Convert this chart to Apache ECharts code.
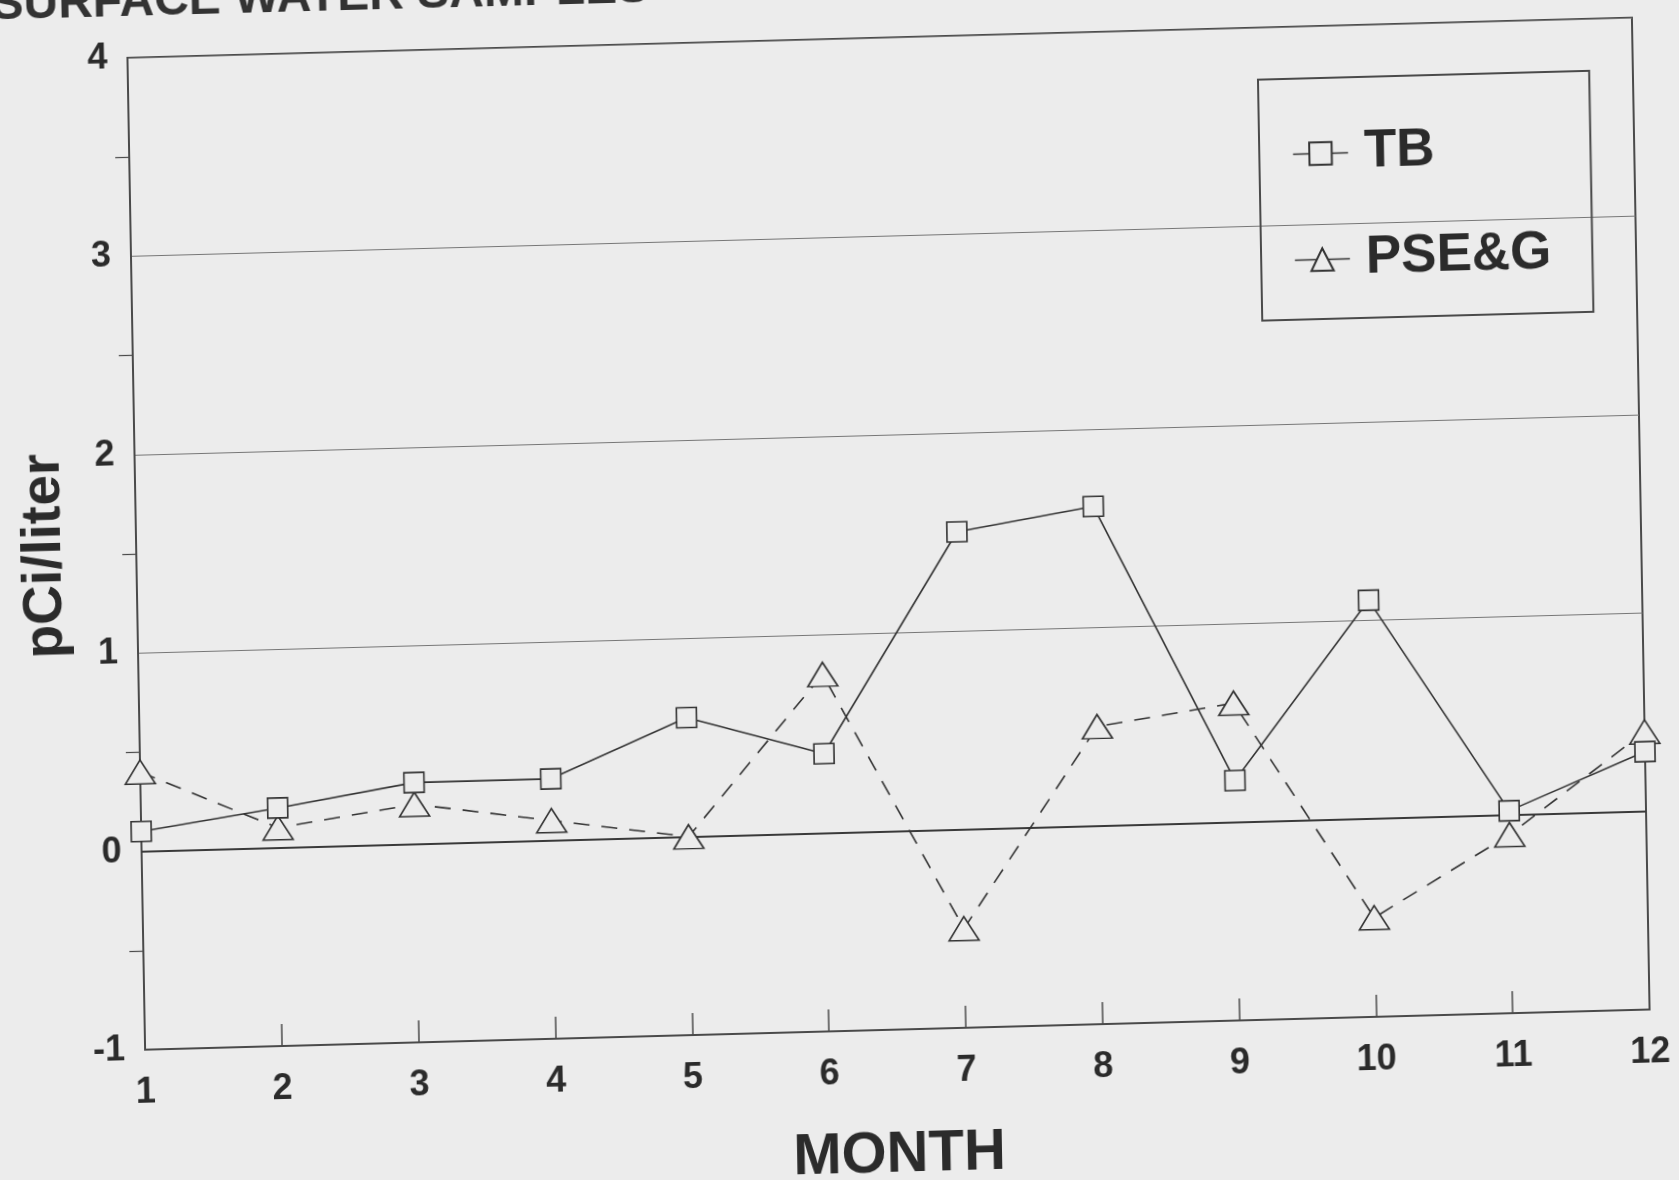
<!DOCTYPE html>
<html>
<head>
<meta charset="utf-8">
<script src="https://cdn.jsdelivr.net/npm/echarts@6/dist/echarts.min.js"></script>
<style>
html, body { margin: 0; padding: 0; background: #ececec; overflow: hidden; }
/* the scanned page is slightly tilted, so tilt the whole chart the same way;
   the div overhangs the window by 30px so the tilted corners stay filled */
#chart { position: absolute; left: -30px; top: -30px; width: 1739px; height: 1240px;
         transform: matrix(0.99964, -0.0267, 0.0178, 0.99984, 0, 0); transform-origin: 50% 50%; }
</style>
</head>
<body>
<div id="chart"></div>
<script>
var months = [1, 2, 3, 4, 5, 6, 7, 8, 9, 10, 11, 12];
var tbValues = [0.1, 0.2, 0.31, 0.31, 0.6, 0.4, 1.5, 1.61, 0.21, 1.1, 0.02, 0.3];
var pseValues = [0.4, 0.1, 0.2, 0.1, 0.0, 0.8, -0.5, 0.5, 0.6, -0.5, -0.1, 0.4];
var seriesNames = ['TB', 'PSE&G'];
var titleText = 'SURFACE WATER SAMPLES';

var bg = '#ececec';
var ink = '#2b2b2b';
var fontFam = '"Liberation Sans", Arial, Helvetica, sans-serif';
var off = 30; // overhang of the div

function pairs(vals) {
    var out = [];
    for (var i = 0; i < months.length; i++) {
        out.push([months[i], vals[i]]);
    }
    return out;
}

var chart = echarts.init(document.getElementById('chart'));
var option = {
    backgroundColor: bg,
    animation: false,
    graphic: [
        {
            type: 'text',
            x: off + 2,
            y: off + 8,
            silent: true,
            style: {
                text: titleText,
                fill: '#333',
                font: 'bold 48px ' + fontFam,
                verticalAlign: 'bottom',
                align: 'left'
            }
        }
    ],
    grid: {
        left: off + 137,
        top: off + 39,
        width: 1505,
        height: 992,
        show: true,
        borderColor: '#4a4a4a',
        borderWidth: 2,
        backgroundColor: 'transparent'
    },
    legend: {
        orient: 'vertical',
        left: off + 1267,
        top: off + 91,
        padding: [49, 41, 33, 33],
        borderColor: '#4a4a4a',
        borderWidth: 2,
        itemWidth: 55,
        itemHeight: 28,
        itemGap: 53,
        data: seriesNames,
        lineStyle: { type: 'solid', width: 1.5, color: '#333' },
        textStyle: { color: ink, fontSize: 53, fontWeight: 'bold', fontFamily: fontFam, padding: [0, 0, 0, 11] }
    },
    xAxis: {
        type: 'value',
        min: 1,
        max: 12,
        interval: 1,
        name: 'MONTH',
        nameLocation: 'middle',
        nameGap: 97,
        nameTextStyle: { color: ink, fontSize: 58, fontWeight: 'bold', fontFamily: fontFam },
        axisLine: { onZero: false, lineStyle: { color: '#4a4a4a', width: 2 } },
        axisTick: { show: true, inside: true, length: 22, lineStyle: { color: '#4a4a4a', width: 1.5 } },
        axisLabel: { margin: 25, color: ink, fontSize: 36, fontWeight: 'bold', fontFamily: fontFam },
        splitLine: { show: false }
    },
    yAxis: {
        type: 'value',
        min: -1,
        max: 4,
        interval: 1,
        name: 'pCi/liter',
        nameLocation: 'middle',
        nameGap: 64,
        nameTextStyle: { color: ink, fontSize: 55, fontWeight: 'bold', fontFamily: fontFam },
        axisLine: { onZero: false, lineStyle: { color: '#4a4a4a', width: 2 } },
        axisTick: { show: false },
        minorTick: { show: true, splitNumber: 2, length: 14, lineStyle: { color: '#4a4a4a', width: 1.2 } },
        axisLabel: { margin: 20, color: ink, fontSize: 36, fontWeight: 'bold', fontFamily: fontFam },
        splitLine: { show: true, lineStyle: { color: '#777', width: 1.2 } }
    },
    series: [
        {
            name: seriesNames[0],
            type: 'line',
            data: pairs(tbValues),
            clip: false,
            symbol: 'rect',
            symbolSize: 20,
            lineStyle: { color: '#333', width: 1.6, type: 'solid' },
            itemStyle: { color: bg, borderColor: '#333', borderWidth: 1.6 },
            z: 3,
            markLine: {
                silent: true,
                symbol: 'none',
                label: { show: false },
                lineStyle: { color: '#3a3a3a', width: 2.2, type: 'solid' },
                data: [{ yAxis: 0 }],
                z: 1
            }
        },
        {
            name: seriesNames[1],
            type: 'line',
            data: pairs(pseValues),
            clip: false,
            symbol: 'triangle',
            symbolSize: [30, 24],
            lineStyle: { color: '#333', width: 1.6, type: [16, 12] },
            itemStyle: { color: bg, borderColor: '#333', borderWidth: 1.6 },
            z: 2
        }
    ]
};
chart.setOption(option);
</script>
</body>
</html>
